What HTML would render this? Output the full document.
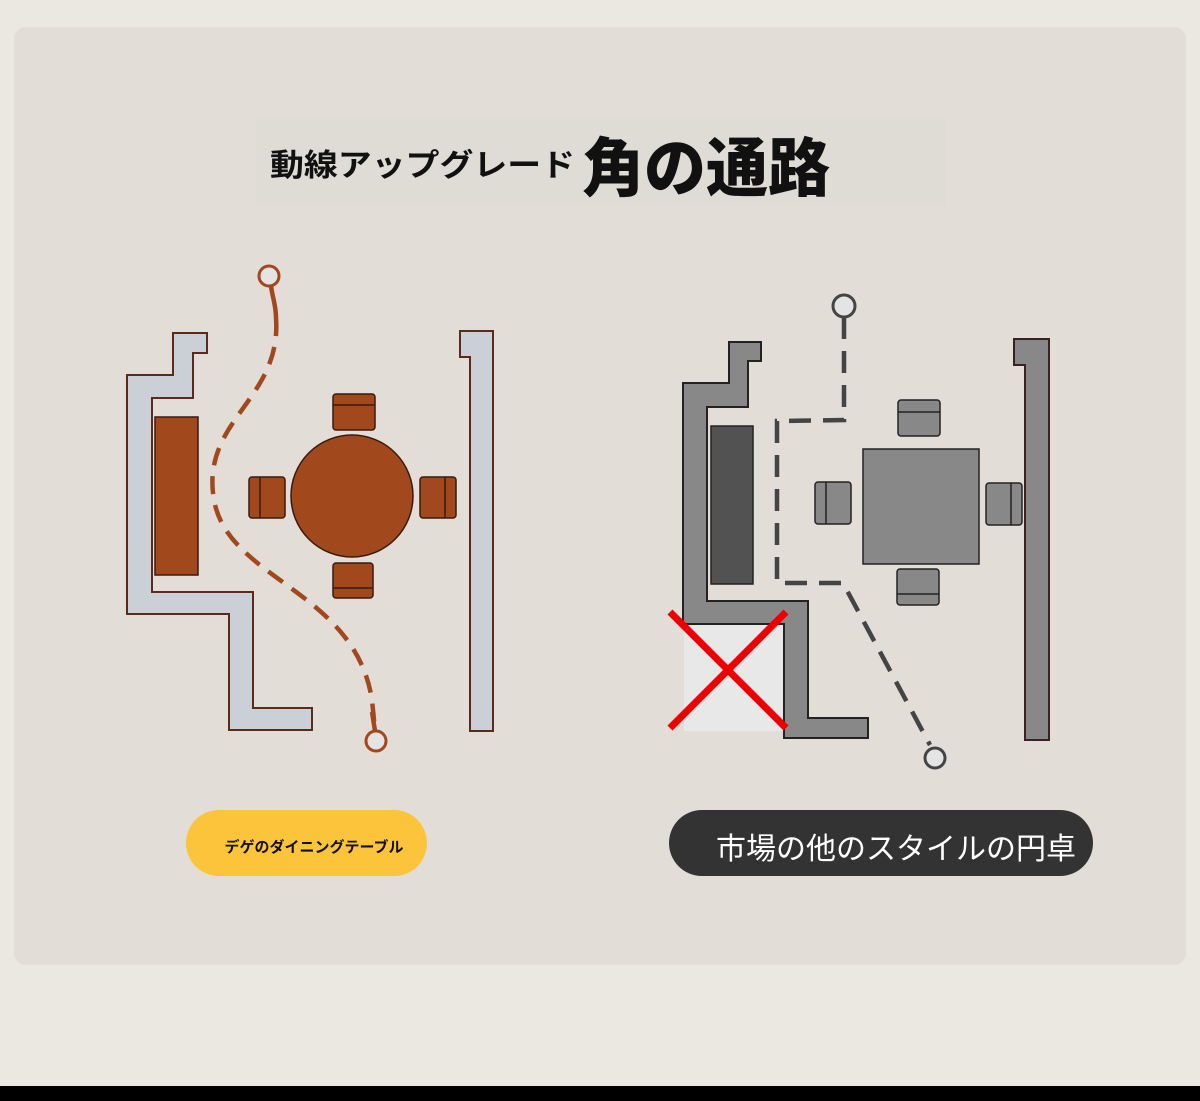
<!DOCTYPE html>
<html><head><meta charset="utf-8"><style>
html,body{margin:0;padding:0;background:#ebe8e1;width:1200px;height:1101px;overflow:hidden}
svg{display:block}
text{font-family:"Liberation Sans","Noto Sans CJK JP",sans-serif}
</style></head><body>
<svg width="1200" height="1101" viewBox="0 0 1200 1101">
<rect x="0" y="0" width="1200" height="1101" fill="#ebe8e1"/>
<rect x="14" y="27" width="1172" height="938" rx="12" fill="#e2ddd6"/>
<rect x="0" y="1086" width="1200" height="15" fill="#000"/>
<rect x="256" y="117" width="690" height="88" fill="#dfdbd5"/>
<text x="270" y="176" font-size="31" font-weight="bold" fill="#111" textLength="305" lengthAdjust="spacingAndGlyphs">動線アップグレード</text>
<text x="582" y="191" font-size="64" font-weight="900" fill="#111" textLength="248" lengthAdjust="spacingAndGlyphs">角の通路</text>

<!-- LEFT -->
<g stroke="#5a2a1a" stroke-width="2">
<polygon points="173,333 207,333 207,353 193,353 193,398 152,398 152,592 253,592 253,708 312,708 312,730 229,730 229,614 127,614 127,375 173,375" fill="#cbd0d6"/>
<polygon points="460,331 493,331 493,731 470,731 470,357 460,357" fill="#cbd0d6"/>
</g>
<g stroke="#3a1a0e" stroke-width="1.5" fill="#a2481d">
<rect x="155" y="417" width="43" height="158"/>
<circle cx="352" cy="496" r="61"/>
<rect x="333" y="394" width="42" height="36" rx="3"/><line x1="333" y1="405" x2="375" y2="405"/>
<rect x="333" y="563" width="40" height="35" rx="3"/><line x1="333" y1="588" x2="373" y2="588"/>
<rect x="249" y="477" width="36" height="41" rx="3"/><line x1="260" y1="477" x2="260" y2="518"/>
<rect x="420" y="477" width="36" height="41" rx="3"/><line x1="445" y1="477" x2="445" y2="518"/>
</g>
<path d="M271 286 C273 300 276 305 276 318" stroke="#a2481d" stroke-width="4.5" fill="none"/>
<path d="M276 318 C282 400 200 420 214 500 C228 580 355 590 372 700 L375 730" stroke="#a2481d" stroke-width="4.5" fill="none" stroke-dasharray="18,11"/>
<path d="M372 712 L375 731" stroke="#a2481d" stroke-width="4.5"/>
<circle cx="269" cy="276" r="10" fill="#e4e4e4" stroke="#a2481d" stroke-width="3"/>
<circle cx="376" cy="741" r="10" fill="#e4e4e4" stroke="#a2481d" stroke-width="3"/>

<!-- RIGHT -->
<g stroke="#222" stroke-width="2">
<polygon points="729,342 761,342 761,361 748,361 748,407 707,407 707,601 808,601 808,718 868,718 868,738 784,738 784,624 683,624 683,383 729,383" fill="#888"/>
<polygon points="1014,339 1049,339 1049,740 1025,740 1025,365 1014,365" fill="#888" stroke="#3a2222"/>
</g>
<rect x="684" y="625" width="100" height="106" fill="#e8e8e8"/>
<line x1="784" y1="624" x2="784" y2="738" stroke="#222" stroke-width="2"/>
<g stroke="#222" stroke-width="1.5" fill="#888">
<rect x="711" y="426" width="42" height="158" fill="#525252"/>
<rect x="863" y="449" width="116" height="115"/>
<rect x="898" y="400" width="42" height="36" rx="3"/><line x1="898" y1="412" x2="940" y2="412"/>
<rect x="897" y="569" width="42" height="36" rx="3"/><line x1="897" y1="594" x2="939" y2="594"/>
<rect x="815" y="482" width="36" height="42" rx="3"/><line x1="826" y1="482" x2="826" y2="524"/>
<rect x="986" y="483" width="36" height="42" rx="3"/><line x1="1011" y1="483" x2="1011" y2="525"/>
</g>
<path d="M844 317 L844 420 L777 421 L777 583 L843 583 L930 745" stroke="#444" stroke-width="4.5" fill="none" stroke-dasharray="22,12"/>
<circle cx="844" cy="306" r="11" fill="#e4e4e4" stroke="#444" stroke-width="3"/>
<circle cx="935" cy="758" r="10" fill="#e4e4e4" stroke="#444" stroke-width="3"/>
<g stroke="#ee0000" stroke-width="7">
<line x1="670" y1="612" x2="786" y2="728"/>
<line x1="786" y1="612" x2="670" y2="728"/>
</g>

<!-- pills -->
<rect x="186" y="810" width="241" height="66" rx="33" fill="#fcc43a"/>
<text x="314" y="852" font-size="15" font-weight="bold" fill="#111" text-anchor="middle">デゲのダイニングテーブル</text>
<rect x="669" y="810" width="424" height="66" rx="33" fill="#333"/>
<text x="896" y="859" font-size="30" fill="#fff" text-anchor="middle">市場の他のスタイルの円卓</text>
</svg>
</body></html>
